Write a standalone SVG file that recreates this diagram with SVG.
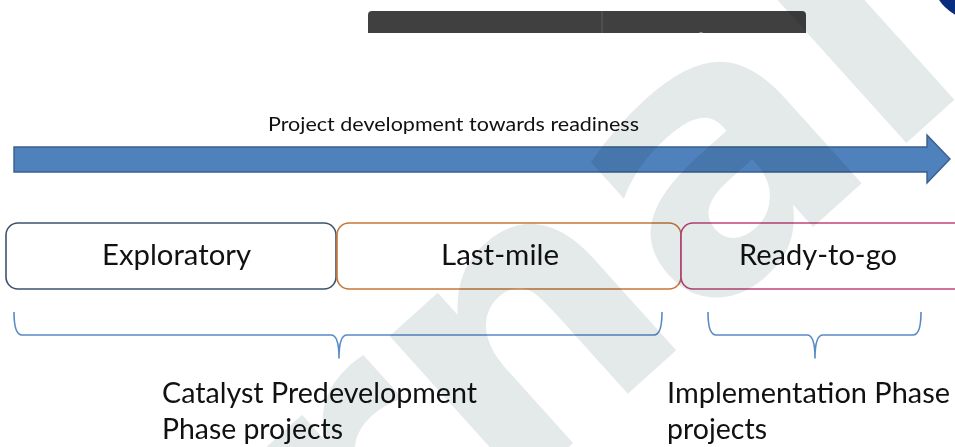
<svg xmlns="http://www.w3.org/2000/svg" width="955" height="447" viewBox="0 0 955 447">
  <style>
    .lbl { font-family: Lato, "Open Sans", "Liberation Sans", sans-serif; fill: #111111; }
    .box { fill: #ffffff; stroke-width: 1.6; }
    .brace { fill: none; stroke: #5a8ac6; stroke-width: 1.6; stroke-linejoin: round; }
    .wm { font-family: "DejaVu Sans", "Liberation Sans", sans-serif; font-weight: 700; fill: #e4eaea; }
  </style>
  <rect width="955" height="447" fill="#ffffff"/>

  <!-- toolbar strip along the top edge -->
  <g id="toolbar">
    <path d="M368,33 V15 Q368,11 372,11 H802 Q806,11 806,15 V33 Z" fill="#404040"/>
    <line x1="602" y1="11" x2="602" y2="33" stroke="#5a5a5a" stroke-width="1.2"/>
    <circle cx="701" cy="39" r="6.5" fill="#ffffff"/>
  </g>
  <circle id="corner-badge" cx="976" cy="-24" r="44" fill="#0b2d7d"/>

  <!-- progress arrow -->
  <g id="progress-arrow">
    <polygon points="14,147 927,147 927,135 950,159 927,183 927,172 14,172" fill="#4f81bd" stroke="#3a5f8c" stroke-width="1.4" stroke-linejoin="miter"/>
    <text class="lbl" x="268" y="131" font-size="19.5" textLength="371" lengthAdjust="spacingAndGlyphs">Project development towards readiness</text>
  </g>

  <!-- stages -->
  <g id="stage-exploratory">
    <rect class="box" x="6" y="223" width="330" height="66" rx="12" stroke="#3e5270"/>
    <text class="lbl" x="102" y="264.5" font-size="28" textLength="149" lengthAdjust="spacingAndGlyphs">Exploratory</text>
  </g>
  <g id="stage-last-mile">
    <rect class="box" x="337" y="223" width="344" height="66" rx="12" stroke="#c8773a"/>
    <text class="lbl" x="441" y="264.5" font-size="28" textLength="118" lengthAdjust="spacingAndGlyphs">Last-mile</text>
  </g>
  <g id="stage-ready">
    <rect class="box" x="681" y="223" width="290" height="66" rx="12" stroke="#c0457a"/>
    <text class="lbl" x="739" y="264.5" font-size="28" textLength="158" lengthAdjust="spacingAndGlyphs">Ready-to-go</text>
  </g>

  <!-- grouping braces -->
  <g id="connectors">
    <path class="brace" d="M14,312 Q14,335 22,335 H331 Q339,335 339,358 Q339,335 347,335 H654 Q662,335 662,312"/>
    <path class="brace" d="M708,312 Q708,335 716,335 H807 Q815,335 815,358 Q815,335 823,335 H913 Q921,335 921,312"/>
  </g>

  <g id="group-catalyst">
    <text class="lbl" x="162" y="403" font-size="28" textLength="315" lengthAdjust="spacingAndGlyphs">Catalyst Predevelopment</text>
    <text class="lbl" x="162" y="439" font-size="28" textLength="181" lengthAdjust="spacingAndGlyphs">Phase projects</text>
  </g>
  <g id="group-implementation">
    <text class="lbl" x="667" y="403" font-size="28" textLength="283" lengthAdjust="spacingAndGlyphs">Implementation Phase</text>
    <text class="lbl" x="667" y="439" font-size="28" textLength="100" lengthAdjust="spacingAndGlyphs">projects</text>
  </g>

  <!-- diagonal background stamp -->
  <g id="stamp" style="mix-blend-mode:multiply">
    <text class="wm" transform="translate(977.5,79) rotate(-42)" font-size="370" text-anchor="end">rnal</text>
  </g>
</svg>
